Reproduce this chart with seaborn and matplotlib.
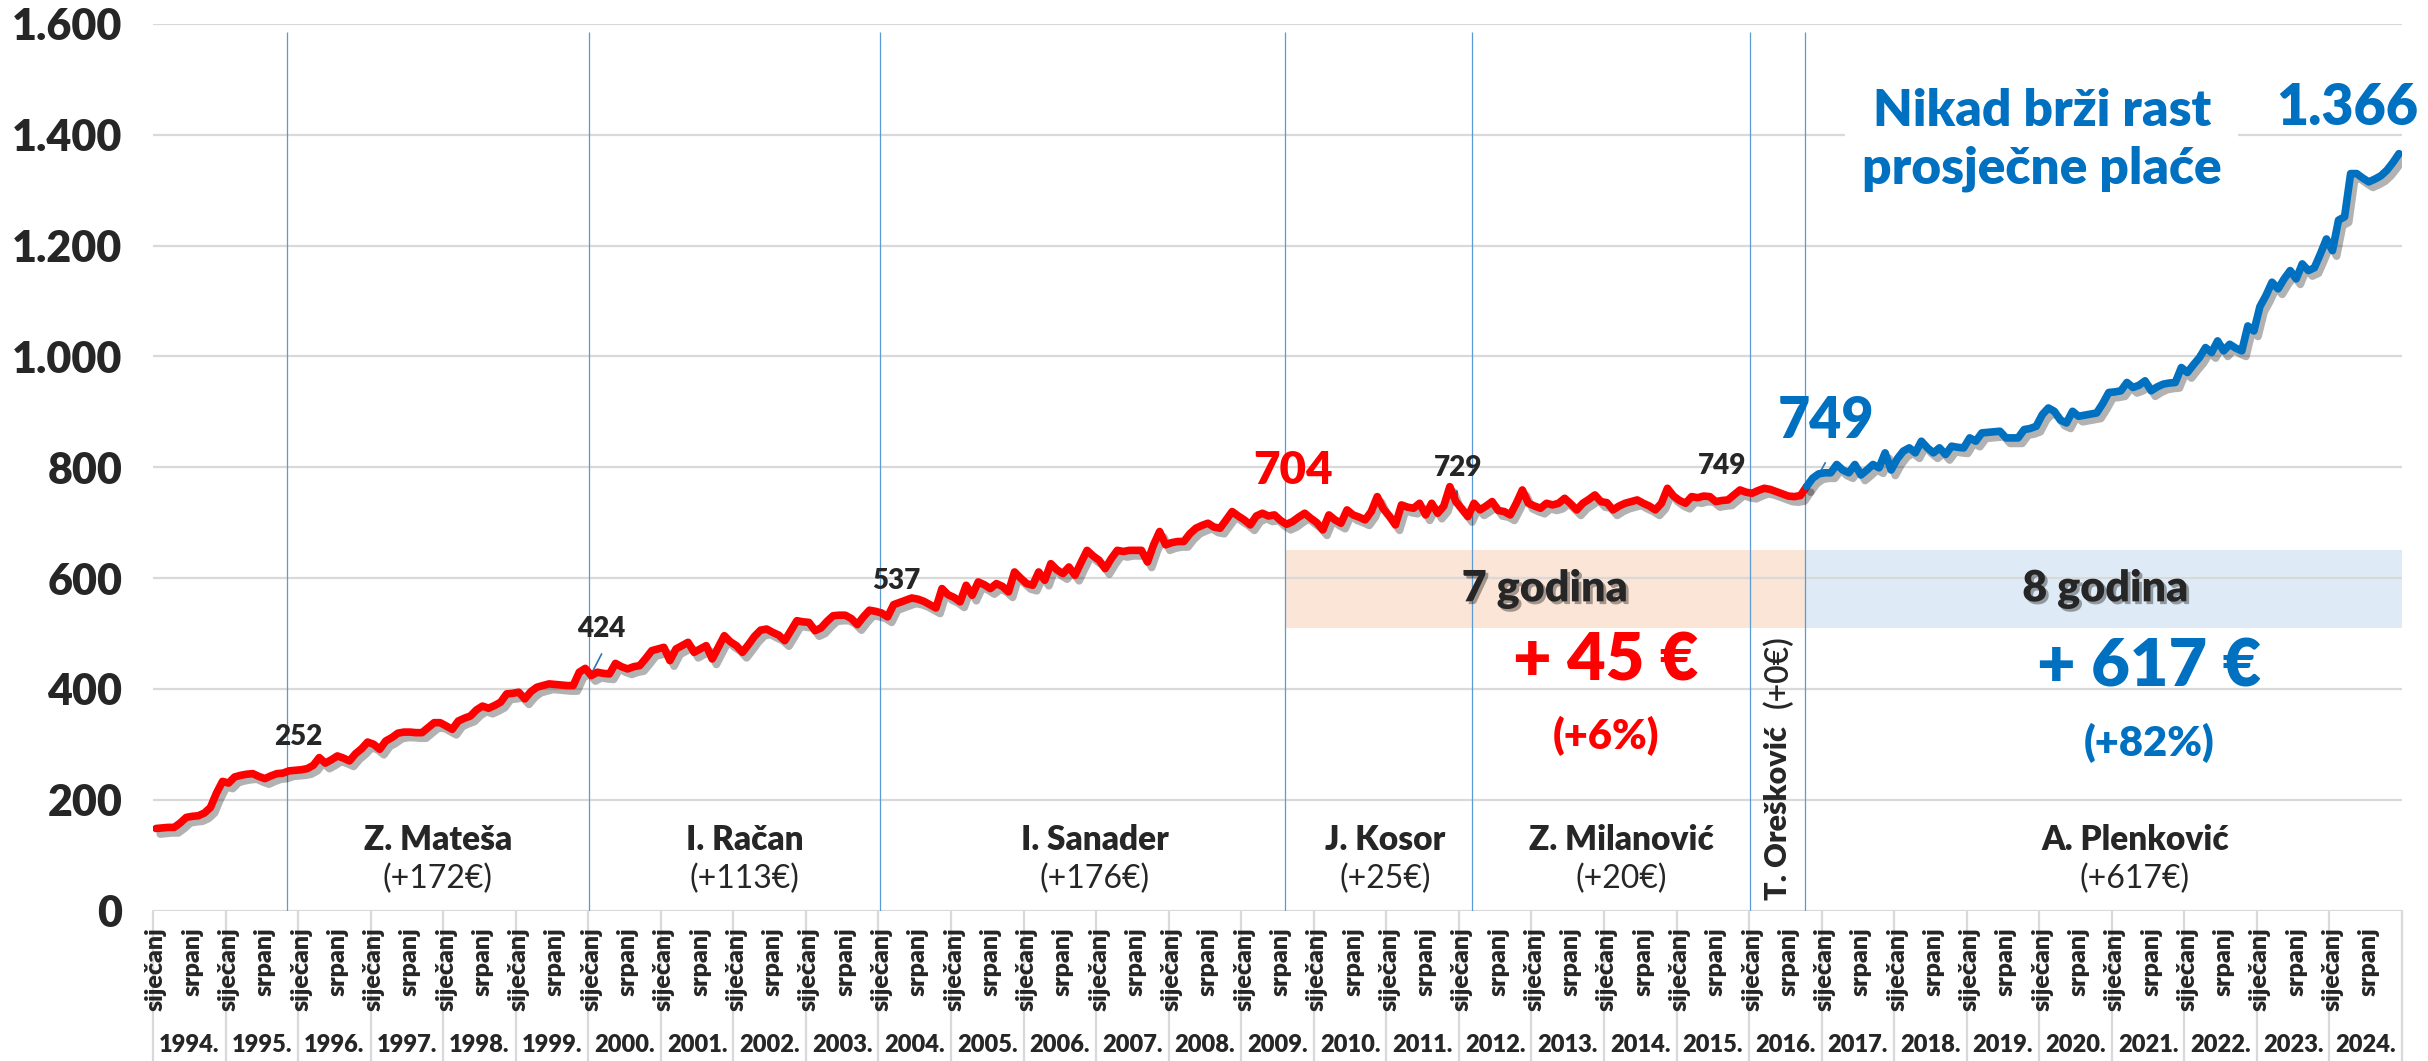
import matplotlib
matplotlib.use("Agg")
import matplotlib.pyplot as plt
import matplotlib.patheffects as pe
import matplotlib.transforms as mtransforms
import numpy as np
import pandas as pd
import seaborn as sns

# prosjecna neto placa (EUR), po mjesecima sijecanj..prosinac
placa_1994 = [148, 149, 150, 150, 158, 168, 170, 171, 176, 186, 212, 233]
placa_1995 = [230, 241, 244, 246, 247, 242, 238, 243, 247, 248, 252, 253]
placa_1996 = [254, 256, 262, 276, 266, 272, 279, 275, 270, 283, 292, 304]
placa_1997 = [300, 291, 306, 312, 320, 322, 322, 321, 321, 330, 339, 339]
placa_1998 = [333, 327, 342, 347, 351, 362, 369, 365, 370, 376, 391, 392]
placa_1999 = [394, 382, 395, 403, 406, 409, 408, 407, 406, 406, 430, 437]
placa_2000 = [424, 430, 428, 427, 446, 440, 436, 440, 442, 455, 469, 472]
placa_2001 = [475, 451, 472, 478, 484, 466, 472, 478, 454, 475, 496, 485]
placa_2002 = [478, 466, 480, 495, 506, 508, 502, 497, 487, 505, 523, 521]
placa_2003 = [520, 505, 510, 522, 532, 533, 533, 527, 516, 530, 542, 540]
placa_2004 = [537, 530, 552, 556, 560, 564, 562, 558, 552, 546, 581, 570]
placa_2005 = [565, 557, 587, 569, 593, 588, 581, 590, 585, 575, 611, 600]
placa_2006 = [590, 587, 611, 596, 626, 615, 608, 620, 605, 628, 650, 640]
placa_2007 = [632, 617, 635, 650, 648, 650, 650, 650, 629, 660, 684, 660]
placa_2008 = [664, 666, 666, 680, 690, 695, 699, 692, 690, 705, 720, 712]
placa_2009 = [705, 696, 712, 717, 712, 714, 704, 697, 702, 710, 717, 708]
placa_2010 = [700, 687, 714, 705, 699, 723, 714, 710, 705, 720, 747, 725]
placa_2011 = [712, 696, 732, 728, 726, 735, 714, 735, 717, 730, 765, 738]
placa_2012 = [725, 711, 735, 723, 730, 738, 722, 720, 714, 735, 759, 735]
placa_2013 = [730, 726, 735, 732, 735, 744, 734, 723, 735, 742, 750, 738]
placa_2014 = [736, 723, 730, 735, 738, 741, 735, 730, 723, 735, 762, 748]
placa_2015 = [740, 735, 747, 745, 748, 747, 738, 740, 741, 750, 759, 755]
placa_2016 = [753, 758, 762, 760, 756, 752, 748, 747, 749, 765, 780, 788]
placa_2017 = [790, 790, 805, 795, 790, 805, 786, 795, 805, 799, 826, 795]
placa_2018 = [815, 829, 835, 826, 847, 835, 826, 835, 823, 838, 836, 835]
placa_2019 = [853, 847, 862, 863, 864, 865, 853, 853, 853, 868, 870, 874]
placa_2020 = [895, 907, 901, 885, 880, 901, 892, 894, 896, 898, 915, 935]
placa_2021 = [936, 938, 953, 944, 948, 956, 938, 945, 950, 952, 953, 980]
placa_2022 = [971, 985, 998, 1016, 1007, 1028, 1010, 1022, 1015, 1010, 1055, 1046]
placa_2023 = [1090, 1110, 1134, 1122, 1140, 1155, 1140, 1167, 1155, 1160, 1185, 1212]
placa_2024 = [1191, 1246, 1252, 1330, 1330, 1322, 1315, 1320, 1326, 1336, 1350, 1366]

godine = list(range(1994, 2025))
mjeseci = {0: "siječanj", 6: "srpanj"}

vlade = ["Z. Mateša", "I. Račan", "I. Sanader", "J. Kosor", "Z. Milanović", "T. Orešković", "A. Plenković"]
vlade_start = [(1995, 11), (2000, 1), (2004, 1), (2009, 8), (2012, 3), (2016, 1), (2016, 10)]
vlade_rast = ["(+172€)", "(+113€)", "(+176€)", "(+25€)", "(+20€)", "(+0€)", "(+617€)"]

placa = (placa_1994 + placa_1995 + placa_1996 + placa_1997 + placa_1998 + placa_1999 +
         placa_2000 + placa_2001 + placa_2002 + placa_2003 + placa_2004 + placa_2005 +
         placa_2006 + placa_2007 + placa_2008 + placa_2009 + placa_2010 + placa_2011 +
         placa_2012 + placa_2013 + placa_2014 + placa_2015 + placa_2016 + placa_2017 +
         placa_2018 + placa_2019 + placa_2020 + placa_2021 + placa_2022 + placa_2023 +
         placa_2024)
n = len(placa)
df = pd.DataFrame({"mjesec": np.arange(n), "placa": placa})

vlade_x = [(y - 1994) * 12 + (m - 1) - 0.3 for y, m in vlade_start]
split = int(round(vlade_x[-1]))  # pocetak Plenkovic

sns.set_style("white")
plt.rcParams["font.family"] = ["Lato", "DejaVu Sans"]

RED = "#ff0000"
BLUE = "#0070c0"
GRID = "#d9d9d9"
BOLD = "heavy"

fig = plt.figure(figsize=(24.28, 10.61), dpi=100)
ax = fig.add_axes([153 / 2428, 150.5 / 1061, 2249 / 2428, 886.5 / 1061])

# bands
ax.fill_between([vlade_x[3], vlade_x[6]], 510, 650, color="#fbe5d6", lw=0, zorder=0.5)
ax.fill_between([vlade_x[6], n - 0.5], 510, 650, color="#deebf7", lw=0, zorder=0.5)

ax.vlines(vlade_x, 0, 1585, color="#5b9bd5", lw=0.9, zorder=1)

sns.lineplot(data=df[df.mjesec <= split], x="mjesec", y="placa", color=RED, lw=5.5, ax=ax, zorder=4)
sns.lineplot(data=df[df.mjesec >= split], x="mjesec", y="placa", color=BLUE, lw=5.5, ax=ax, zorder=4)
for line in ax.get_lines():
    line.set_solid_joinstyle("round")
    line.set_path_effects([pe.SimpleLineShadow(offset=(3, -4), shadow_color="black", alpha=0.3),
                           pe.Normal()])

ax.set_xlim(-0.5, n - 0.5)
ax.set_ylim(0, 1600)
ax.set_yticks(range(0, 1601, 200))
ax.set_yticklabels([f"{v:,}".replace(",", ".") for v in range(0, 1601, 200)],
                   fontsize=31, fontweight=BOLD)
ax.tick_params(axis="y", length=0, pad=22)
ax.set_xticks([])
ax.set_xlabel("")
ax.set_ylabel("")
ax.yaxis.grid(True, color=GRID, lw=1.6)
ax.set_axisbelow(True)
for s in ax.spines.values():
    s.set_visible(False)

# category axis
trans = mtransforms.blended_transform_factory(ax.transData, fig.transFigure)
for k, g in enumerate(godine):
    for off, name in mjeseci.items():
        ax.text(12 * k + off, 1 - 927 / 1061, name, rotation=90, ha="center", va="top",
                transform=trans, fontsize=18, fontweight=BOLD)
    ax.text(12 * k + 5.5, 1 - 1045 / 1061, f"{g}.", ha="center", va="center",
            transform=trans, fontsize=17, fontweight=BOLD)
for b in range(0, n + 1, 12):
    ax.plot([b - 0.5, b - 0.5], [0, 150.5 / 1061], transform=trans, color=GRID,
            lw=1.6, clip_on=False)

# government labels
name_x = [46.6, 97.4, 155.3, 203.3, 242.3, None, 327.3]
for i, (name, rast) in enumerate(zip(vlade, vlade_rast)):
    if name_x[i] is None:
        continue
    ax.text(name_x[i], 128, name, ha="center", va="center", fontsize=24, fontweight=BOLD)
    ax.text(name_x[i], 57, rast, ha="center", va="center", fontsize=23)
ax.text(268.3, 19, vlade[5], rotation=90, ha="center", va="bottom", fontsize=22, fontweight=BOLD)
ax.text(268.3, 366, vlade_rast[5], rotation=90, ha="center", va="bottom", fontsize=23,
        fontweight="semibold")

# value labels
for x, y, t in [(23.5, 313, "252"), (73.6, 508, "424"), (122.4, 594, "537"),
                (215.3, 799, "729"), (259.0, 802, "749")]:
    ax.text(x, y, t, ha="center", va="center", fontsize=20, fontweight=BOLD)
ax.text(188.1, 795, "704", ha="center", va="center", fontsize=33, fontweight=BOLD, color=RED)
ax.text(276.2, 884, "749", ha="center", va="center", fontsize=40, fontweight=BOLD, color=BLUE)
ax.text(362.5, 1448, "1.366", ha="center", va="center", fontsize=40, fontweight=BOLD, color=BLUE)
ax.plot([72.0, 73.7], [427, 463], color="#2e75b6", lw=1.2)
ax.plot([274.7, 276.1], [780, 808], color="#2e75b6", lw=1.2)
ax.plot([215.2, 215.2], [735, 757], color="#2e75b6", lw=1.2)

ax.text(311.9, 1390, "Nikad brži rast\nprosječne plaće", ha="center", va="center",
        fontsize=37, fontweight=BOLD, color=BLUE, linespacing=1.3,
        bbox=dict(facecolor="white", edgecolor="none", pad=12))

shadow = [pe.withSimplePatchShadow(offset=(2, -2), shadow_rgbFace="black", alpha=0.35)]
ax.text(229.7, 581, "7 godina", ha="center", va="center", fontsize=31, fontweight=BOLD,
        path_effects=shadow)
ax.text(322.4, 581, "8 godina", ha="center", va="center", fontsize=31, fontweight=BOLD,
        path_effects=shadow)
ax.text(239.8, 450, "+ 45 €", ha="center", va="center", fontsize=48, fontweight=BOLD, color=RED)
ax.text(239.8, 315, "(+6%)", ha="center", va="center", fontsize=30, fontweight=BOLD, color=RED)
ax.text(329.6, 440, "+ 617 €", ha="center", va="center", fontsize=48, fontweight=BOLD, color=BLUE)
ax.text(329.6, 302, "(+82%)", ha="center", va="center", fontsize=30, fontweight=BOLD, color=BLUE)

fig.savefig("out.png", dpi=100)
